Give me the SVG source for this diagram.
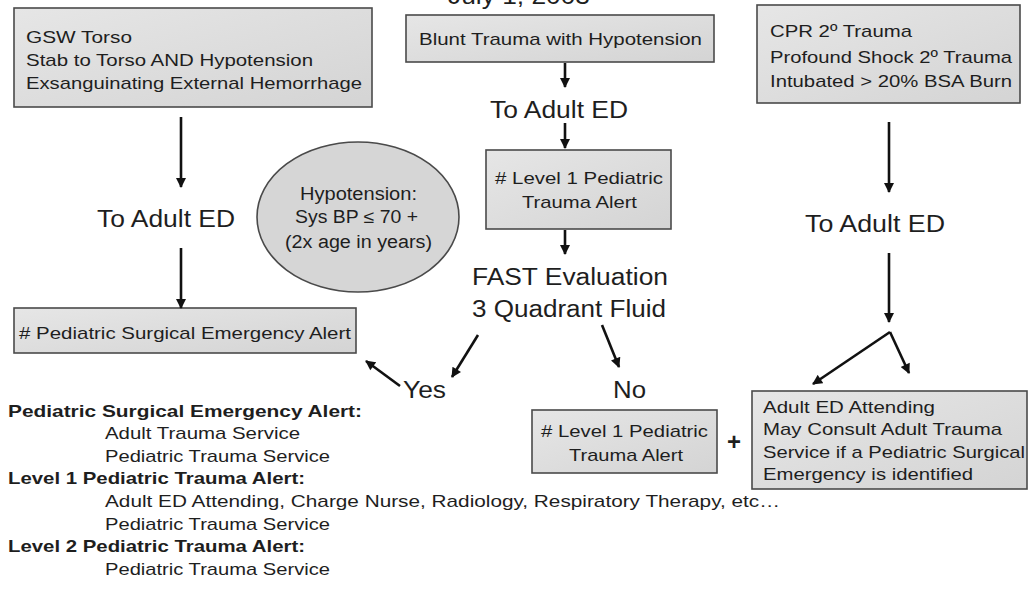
<svg xmlns="http://www.w3.org/2000/svg" width="1029" height="592" viewBox="0 0 1029 592">
<style>
text{font-family:"Liberation Sans",Arial,sans-serif;fill:#1e1e1e}
.box{fill:url(#g);stroke:#4a4a4a;stroke-width:1.6}
.bt{font-size:17px}
.big{font-size:23px}
.el{font-size:18px}
.lst{font-size:17px}
.hd{font-size:17px;font-weight:bold}
.c{text-anchor:middle}
.ar{stroke:#111;stroke-width:2.6;fill:none;marker-end:url(#ah)}
</style>
<defs>
<linearGradient id="g" x1="0" y1="0" x2="1" y2="1">
<stop offset="0" stop-color="#e6e6e6"/>
<stop offset="1" stop-color="#d4d4d4"/>
</linearGradient>
<marker id="ah" viewBox="0 0 10 10" refX="9" refY="5" markerWidth="11" markerHeight="10" markerUnits="userSpaceOnUse" orient="auto">
<path d="M0,0 L10,5 L0,10 z" fill="#111"/>
</marker>
</defs>
<rect width="1029" height="592" fill="#fff"/>
<text class="big" x="519" y="4" text-anchor="middle" textLength="142" lengthAdjust="spacingAndGlyphs">July 1, 2003</text>

<g id="n-left-criteria">
<rect class="box" x="14" y="8" width="358" height="99"/>
<text class="bt" x="26" y="43" textLength="106" lengthAdjust="spacingAndGlyphs">GSW Torso</text>
<text class="bt" x="26" y="66" textLength="287" lengthAdjust="spacingAndGlyphs">Stab to Torso AND Hypotension</text>
<text class="bt" x="26" y="89" textLength="336" lengthAdjust="spacingAndGlyphs">Exsanguinating External Hemorrhage</text>
</g>
<g id="n-left-ed"><text class="big" x="97" y="227" textLength="138" lengthAdjust="spacingAndGlyphs">To Adult ED</text></g>
<g id="n-pse">
<rect class="box" x="14" y="308" width="342" height="45"/>
<text class="bt" x="19" y="339" textLength="332" lengthAdjust="spacingAndGlyphs"># Pediatric Surgical Emergency Alert</text>
</g>

<g id="n-blunt">
<rect class="box" x="406" y="15" width="308" height="47"/>
<text class="bt" x="419" y="45" textLength="283" lengthAdjust="spacingAndGlyphs">Blunt Trauma with Hypotension</text>
</g>
<g id="n-center-ed"><text class="big" x="490" y="118" textLength="138" lengthAdjust="spacingAndGlyphs">To Adult ED</text></g>
<g id="n-l1">
<rect class="box" x="486" y="150" width="185" height="79"/>
<text class="bt" x="495" y="184" textLength="168" lengthAdjust="spacingAndGlyphs"># Level 1 Pediatric</text>
<text class="bt" x="522" y="208" textLength="115" lengthAdjust="spacingAndGlyphs">Trauma Alert</text>
</g>
<g id="n-hypo">
<ellipse cx="358" cy="217" rx="101" ry="75" fill="#d6d6d6" stroke="#4a4a4a" stroke-width="1.6"/>
<text class="el" x="300" y="200" textLength="117" lengthAdjust="spacingAndGlyphs">Hypotension:</text>
<text class="el" x="295" y="223" textLength="123" lengthAdjust="spacingAndGlyphs">Sys BP ≤ 70 +</text>
<text class="el" x="285" y="248" textLength="147" lengthAdjust="spacingAndGlyphs">(2x age in years)</text>
</g>
<g id="n-fast">
<text class="big" x="472" y="285" textLength="196" lengthAdjust="spacingAndGlyphs">FAST Evaluation</text>
<text class="big" x="472" y="317" textLength="194" lengthAdjust="spacingAndGlyphs">3 Quadrant Fluid</text>
</g>
<g id="n-yes"><text class="big" x="403" y="398" textLength="43" lengthAdjust="spacingAndGlyphs">Yes</text></g>
<g id="n-no"><text class="big" x="613" y="398" textLength="33" lengthAdjust="spacingAndGlyphs">No</text></g>
<g id="n-l1b">
<rect class="box" x="532" y="410" width="185" height="63"/>
<text class="bt" x="541" y="437" textLength="167" lengthAdjust="spacingAndGlyphs"># Level 1 Pediatric</text>
<text class="bt" x="569" y="461" textLength="114" lengthAdjust="spacingAndGlyphs">Trauma Alert</text>
</g>
<g id="n-plus"><text x="734" y="450" text-anchor="middle" style="font-size:24px;font-weight:bold">+</text></g>

<g id="n-right-criteria">
<rect class="box" x="757" y="5" width="263" height="98"/>
<text class="bt" x="770" y="37" textLength="142" lengthAdjust="spacingAndGlyphs">CPR 2º Trauma</text>
<text class="bt" x="770" y="63" textLength="242" lengthAdjust="spacingAndGlyphs">Profound Shock 2º Trauma</text>
<text class="bt" x="770" y="87" textLength="242" lengthAdjust="spacingAndGlyphs">Intubated &gt; 20% BSA Burn</text>
</g>
<g id="n-right-ed"><text class="big" x="805" y="232" textLength="140" lengthAdjust="spacingAndGlyphs">To Adult ED</text></g>
<g id="n-attending">
<rect class="box" x="752" y="391" width="275" height="98"/>
<text class="bt" x="763" y="413" textLength="172" lengthAdjust="spacingAndGlyphs">Adult ED Attending</text>
<text class="bt" x="763" y="435" textLength="239" lengthAdjust="spacingAndGlyphs">May Consult Adult Trauma</text>
<text class="bt" x="763" y="458" textLength="262" lengthAdjust="spacingAndGlyphs">Service if a Pediatric Surgical</text>
<text class="bt" x="763" y="480" textLength="210" lengthAdjust="spacingAndGlyphs">Emergency is identified</text>
</g>

<g id="n-legend">
<text class="hd" x="8" y="417" textLength="354" lengthAdjust="spacingAndGlyphs">Pediatric Surgical Emergency Alert:</text>
<text class="lst" x="105" y="439" textLength="195" lengthAdjust="spacingAndGlyphs">Adult Trauma Service</text>
<text class="lst" x="105" y="462" textLength="225" lengthAdjust="spacingAndGlyphs">Pediatric Trauma Service</text>
<text class="hd" x="8" y="484" textLength="297" lengthAdjust="spacingAndGlyphs">Level 1 Pediatric Trauma Alert:</text>
<text class="lst" x="105" y="507" textLength="675" lengthAdjust="spacingAndGlyphs">Adult ED Attending, Charge Nurse, Radiology, Respiratory Therapy, etc…</text>
<text class="lst" x="105" y="530" textLength="225" lengthAdjust="spacingAndGlyphs">Pediatric Trauma Service</text>
<text class="hd" x="8" y="552" textLength="297" lengthAdjust="spacingAndGlyphs">Level 2 Pediatric Trauma Alert:</text>
<text class="lst" x="105" y="575" textLength="225" lengthAdjust="spacingAndGlyphs">Pediatric Trauma Service</text>
</g>

<g id="connectors">
<line class="ar" x1="181" y1="117" x2="181" y2="187"/>
<line class="ar" x1="181" y1="248" x2="181" y2="308"/>
<line class="ar" x1="565" y1="63" x2="565" y2="87"/>
<line class="ar" x1="565" y1="123" x2="565" y2="148"/>
<line class="ar" x1="565" y1="230" x2="565" y2="254"/>
<line class="ar" x1="478" y1="335" x2="452" y2="377"/>
<line class="ar" x1="400" y1="386" x2="366" y2="361"/>
<line class="ar" x1="602" y1="325" x2="619" y2="367"/>
<line class="ar" x1="889" y1="122" x2="889" y2="192"/>
<line class="ar" x1="889" y1="253" x2="889" y2="322"/>
<line class="ar" x1="890" y1="332" x2="813" y2="384"/>
<line class="ar" x1="890" y1="332" x2="909" y2="373"/>
</g>
</svg>
